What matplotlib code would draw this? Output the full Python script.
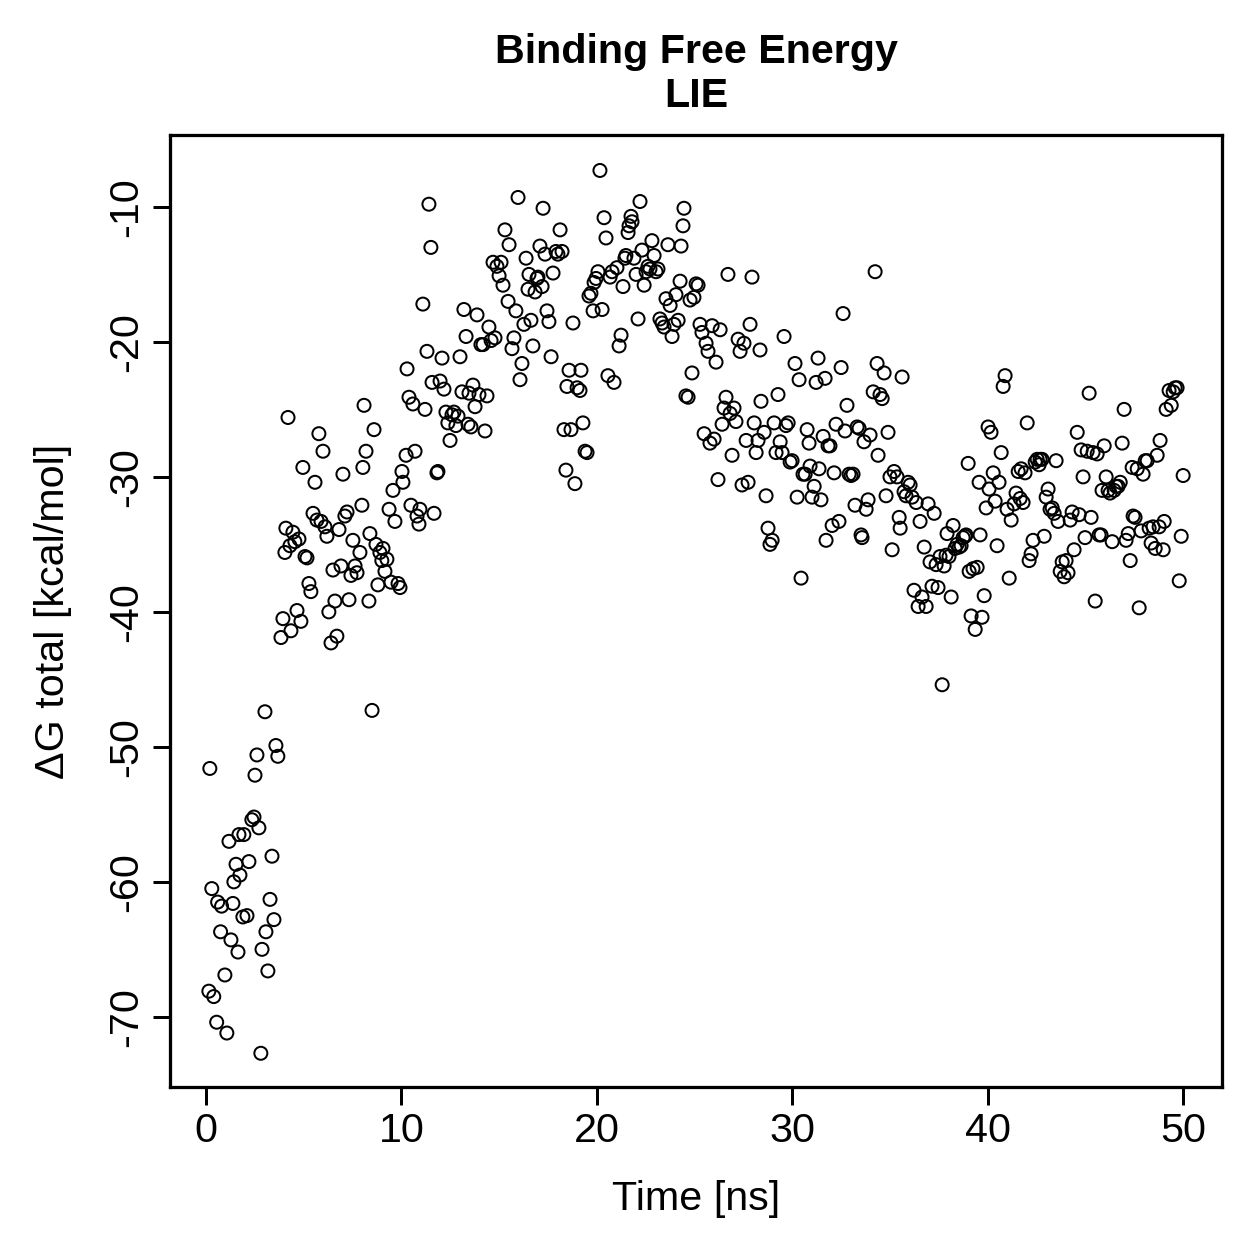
import numpy as np
import matplotlib.pyplot as plt

plt.rcParams['font.family'] = ['Liberation Sans', 'DejaVu Sans']

# time [ns]
time = [
    0.2, 0.3, 0.15, 0.4, 0.6, 0.55, 0.75, 0.8, 0.97, 1.07, 1.18, 1.28, 1.38, 1.43, 1.54, 1.64, 1.69, 1.74, 1.89, 1.94,
    2.1, 2.2, 2.35, 2.46, 2.51, 2.61, 2.71, 2.81, 2.87, 3.02, 3.07, 3.17, 3.28, 3.38, 3.48, 3.58, 3.68, 3.84, 3.94,
    4.04, 4.09, 4.2, 4.3, 4.35, 4.45, 4.55, 4.66, 4.76, 4.86, 4.96, 5.07, 5.17, 5.27, 5.37, 5.48, 5.58, 5.68, 5.78,
    5.89, 5.99, 6.09, 6.19, 6.29, 6.4, 6.5, 6.6, 6.7, 6.81, 6.91, 7.01, 7.11, 7.22, 7.32, 7.42, 7.52, 7.63, 7.73,
    7.88, 7.98, 8.03, 8.09, 8.19, 8.34, 8.39, 8.5, 8.6, 8.7, 8.8, 8.9, 9.0, 9.06, 9.16, 9.26, 9.37, 9.47, 9.57, 9.67,
    9.83, 9.93, 10.03, 10.08, 10.24, 10.29, 10.39, 10.49, 10.59, 10.7, 10.8, 10.9, 10.95, 11.1, 11.21, 11.31, 11.41,
    11.51, 11.57, 11.67, 11.82, 11.87, 11.98, 12.08, 12.18, 12.28, 12.38, 12.49, 12.59, 12.69, 12.79, 12.9, 13.0,
    13.1, 13.2, 13.31, 13.41, 13.46, 13.56, 13.66, 13.77, 13.87, 13.97, 14.07, 14.18, 14.28, 14.38, 14.48, 14.59,
    14.69, 14.79, 14.89, 15.0, 15.1, 15.2, 15.3, 15.46, 15.51, 15.66, 15.76, 15.86, 15.97, 16.07, 16.17, 16.27,
    16.38, 16.48, 16.53, 16.63, 16.73, 16.84, 16.94, 16.99, 17.09, 17.2, 17.25, 17.35, 17.45, 17.55, 17.66, 17.76,
    17.91, 18.01, 18.12, 18.22, 18.32, 18.42, 18.47, 18.58, 18.68, 18.78, 18.88, 18.99, 19.14, 19.19, 19.29, 19.4,
    19.5, 19.6, 19.7, 19.81, 19.86, 19.96, 20.06, 20.16, 20.27, 20.37, 20.47, 20.57, 20.68, 20.78, 20.88, 21.03,
    21.14, 21.24, 21.34, 21.44, 21.49, 21.6, 21.65, 21.75, 21.8, 21.9, 22.01, 22.11, 22.21, 22.31, 22.42, 22.52,
    22.62, 22.72, 22.82, 22.93, 23.03, 23.13, 23.23, 23.34, 23.44, 23.54, 23.64, 23.75, 23.85, 23.95, 24.05, 24.16,
    24.26, 24.31, 24.41, 24.46, 24.56, 24.67, 24.77, 24.87, 24.97, 25.08, 25.18, 25.28, 25.38, 25.49, 25.59, 25.69,
    25.79, 25.9, 26.0, 26.1, 26.2, 26.31, 26.41, 26.51, 26.61, 26.71, 26.82, 26.92, 27.02, 27.12, 27.23, 27.33,
    27.43, 27.53, 27.64, 27.74, 27.84, 27.94, 28.05, 28.15, 28.25, 28.35, 28.4, 28.56, 28.66, 28.76, 28.86, 28.97,
    29.07, 29.17, 29.27, 29.38, 29.48, 29.58, 29.68, 29.79, 29.89, 29.99, 30.14, 30.25, 30.35, 30.45, 30.55, 30.66,
    30.76, 30.86, 30.91, 31.01, 31.12, 31.22, 31.32, 31.37, 31.47, 31.58, 31.68, 31.73, 31.83, 31.93, 32.04, 32.14,
    32.24, 32.39, 32.5, 32.6, 32.7, 32.8, 32.91, 33.01, 33.11, 33.21, 33.32, 33.42, 33.52, 33.57, 33.67, 33.78,
    33.88, 33.98, 34.14, 34.24, 34.34, 34.39, 34.49, 34.6, 34.7, 34.8, 34.9, 35.0, 35.11, 35.21, 35.36, 35.47,
    35.52, 35.62, 35.72, 35.82, 35.93, 36.03, 36.13, 36.23, 36.34, 36.44, 36.54, 36.64, 36.75, 36.85, 36.95, 37.05,
    37.15, 37.26, 37.36, 37.46, 37.56, 37.67, 37.77, 37.87, 37.92, 38.02, 38.13, 38.23, 38.33, 38.43, 38.54, 38.64,
    38.74, 38.84, 38.89, 39.0, 39.05, 39.15, 39.25, 39.36, 39.46, 39.56, 39.61, 39.71, 39.82, 39.92, 40.02, 40.07,
    40.17, 40.28, 40.38, 40.48, 40.58, 40.69, 40.79, 40.89, 40.99, 41.1, 41.2, 41.35, 41.45, 41.56, 41.66, 41.71,
    41.81, 41.91, 42.02, 42.12, 42.22, 42.32, 42.43, 42.53, 42.63, 42.68, 42.78, 42.89, 42.99, 43.09, 43.19, 43.3,
    43.4, 43.5, 43.6, 43.71, 43.81, 43.91, 44.01, 44.11, 44.22, 44.32, 44.42, 44.58, 44.68, 44.78, 44.88, 44.98,
    45.09, 45.19, 45.29, 45.39, 45.5, 45.6, 45.7, 45.8, 45.85, 45.96, 46.06, 46.16, 46.26, 46.37, 46.47, 46.57,
    46.67, 46.78, 46.88, 46.98, 47.08, 47.19, 47.29, 47.39, 47.44, 47.54, 47.65, 47.75, 47.85, 47.95, 48.06, 48.16,
    48.26, 48.36, 48.46, 48.57, 48.67, 48.77, 48.82, 48.98, 49.03, 49.13, 49.28, 49.39, 49.49, 49.59, 49.69, 49.8,
    49.9, 50.0,
]

# dG total [kcal/mol]
dg_total = [
    -51.6, -60.5, -68.1, -68.5, -61.5, -70.4, -63.7, -61.8, -66.9, -71.2, -57.0, -64.3, -61.6, -60.0, -58.7, -65.2,
    -56.5, -59.5, -62.6, -56.5, -62.5, -58.5, -55.4, -55.2, -52.1, -50.6, -56.0, -72.7, -65.0, -47.4, -63.7, -66.6,
    -61.3, -58.1, -62.8, -49.9, -50.7, -41.9, -40.5, -35.6, -33.8, -25.6, -35.1, -41.4, -34.1, -34.8, -39.9, -34.6,
    -40.7, -29.3, -35.9, -36.0, -37.9, -38.5, -32.7, -30.4, -33.2, -26.8, -33.3, -28.1, -33.7, -34.4, -40.0, -42.3,
    -36.9, -39.2, -41.8, -33.9, -36.6, -29.8, -32.9, -32.6, -39.1, -37.3, -34.7, -36.6, -37.1, -35.6, -32.1, -29.3,
    -24.7, -28.1, -39.2, -34.2, -47.3, -26.5, -35.0, -38.0, -35.6, -36.2, -35.3, -37.0, -36.1, -32.4, -37.8, -31.0,
    -33.3, -37.9, -38.2, -29.6, -30.4, -28.4, -22.0, -24.1, -32.1, -24.6, -28.1, -32.9, -33.5, -32.4, -17.2, -25.0,
    -20.7, -9.8, -13.0, -23.0, -32.7, -29.7, -29.6, -22.9, -21.2, -23.5, -25.2, -26.0, -27.3, -25.4, -25.2, -26.2,
    -25.5, -21.1, -23.7, -17.6, -19.6, -26.1, -23.8, -26.3, -23.2, -24.8, -18.0, -23.9, -20.2, -20.2, -26.6, -24.0,
    -18.9, -19.9, -14.1, -19.7, -14.4, -15.1, -14.1, -15.8, -11.7, -17.0, -12.8, -20.5, -19.7, -17.7, -9.3, -22.8,
    -21.6, -18.7, -13.8, -16.1, -15.0, -18.4, -20.3, -16.3, -15.3, -15.2, -12.9, -15.9, -10.1, -13.5, -17.7, -18.5,
    -21.1, -14.9, -13.3, -13.5, -11.7, -13.3, -26.5, -29.5, -23.3, -22.1, -26.5, -18.6, -30.5, -23.4, -23.6, -22.1,
    -26.0, -28.1, -28.2, -16.6, -16.4, -17.7, -15.6, -15.3, -14.8, -7.3, -17.6, -10.8, -12.3, -22.5, -15.2, -14.8,
    -23.0, -14.5, -20.3, -19.5, -15.9, -13.8, -13.6, -11.9, -11.4, -10.7, -11.1, -13.8, -15.0, -18.3, -9.6, -13.2,
    -15.8, -14.8, -14.4, -14.6, -12.5, -13.6, -14.8, -14.6, -18.3, -18.6, -18.9, -16.8, -12.8, -17.3, -19.6, -18.7,
    -16.5, -18.4, -15.5, -12.9, -11.4, -10.1, -24.0, -24.1, -16.9, -22.3, -16.7, -15.7, -15.8, -18.7, -19.3, -26.8,
    -20.1, -20.7, -27.5, -18.8, -27.2, -21.5, -30.2, -19.1, -26.1, -24.9, -24.1, -15.0, -25.3, -28.4, -24.9, -25.9,
    -19.8, -20.7, -30.6, -20.1, -27.3, -30.4, -18.7, -15.2, -26.0, -28.2, -27.3, -20.6, -24.4, -26.7, -31.4, -33.8,
    -35.0, -34.7, -26.0, -28.2, -23.9, -27.4, -28.2, -19.6, -26.2, -26.0, -28.9, -28.8, -21.6, -31.5, -22.8, -37.5,
    -29.8, -29.8, -26.5, -27.5, -29.2, -31.5, -30.7, -23.0, -21.2, -29.4, -31.7, -27.0, -22.7, -34.7, -27.7, -27.7,
    -33.6, -29.7, -26.1, -33.3, -21.9, -17.9, -26.6, -24.7, -29.8, -29.9, -29.8, -32.1, -26.3, -26.4, -34.3, -34.5,
    -27.4, -32.4, -31.7, -26.9, -23.7, -14.8, -21.6, -28.4, -23.9, -24.2, -22.3, -31.4, -26.7, -30.0, -35.4, -29.6,
    -30.0, -33.0, -33.8, -22.6, -31.1, -31.4, -30.4, -30.6, -31.5, -38.4, -31.9, -39.6, -33.3, -38.9, -35.2, -39.6,
    -32.0, -36.3, -38.1, -32.7, -36.5, -38.2, -35.9, -45.4, -36.6, -35.8, -34.2, -35.9, -38.9, -33.6, -35.3, -35.0,
    -35.2, -35.1, -34.5, -34.4, -34.3, -29.0, -37.0, -40.3, -36.8, -41.3, -36.7, -30.4, -34.3, -40.4, -38.8, -32.3,
    -26.3, -30.9, -26.7, -29.7, -31.8, -35.1, -30.4, -28.2, -23.3, -22.5, -32.4, -37.5, -33.2, -32.0, -31.2, -29.6,
    -31.6, -29.4, -31.9, -29.7, -26.0, -36.2, -35.7, -34.7, -28.9, -28.7, -29.1, -28.7, -28.7, -34.4, -31.5, -30.9,
    -32.4, -32.3, -32.7, -28.8, -33.3, -37.0, -36.3, -37.4, -36.2, -37.1, -33.2, -32.6, -35.4, -26.7, -32.8, -28.0,
    -30.0, -34.5, -28.1, -23.8, -33.0, -28.2, -39.2, -28.3, -34.3, -34.3, -31.0, -27.7, -30.0, -31.0, -31.2, -34.8,
    -31.0, -30.7, -30.7, -30.4, -27.5, -25.0, -34.7, -34.2, -36.2, -29.3, -32.9, -33.0, -29.4, -39.7, -34.0, -29.8,
    -28.8, -28.8, -33.8, -34.9, -33.7, -35.3, -28.4, -33.7, -27.3, -35.4, -33.3, -25.0, -23.6, -24.7, -23.7, -23.4,
    -23.4, -37.7, -34.4, -29.9,
]

x_ticks = [0, 10, 20, 30, 40, 50]
y_ticks = [-70, -60, -50, -40, -30, -20, -10]

fig = plt.figure(figsize=(1259 / 180, 1259 / 180), dpi=180)
ax = fig.add_axes([0.135, 0.1366, 0.8358, 0.7562])

ax.scatter(time, dg_total, s=27, facecolors='none', edgecolors='black', linewidths=0.8)

ax.set_xlim(-1.84, 52.0)
ax.set_ylim(-75.2, -4.67)
ax.set_xticks(x_ticks)
ax.set_yticks(y_ticks)
ax.set_yticklabels([str(v) for v in y_ticks], rotation=90, va='center')
ax.tick_params(direction='out', length=7, width=1.2, labelsize=16.5, pad=3)

for sp in ax.spines.values():
    sp.set_linewidth(1.3)

ax.set_xlabel('Time [ns]', fontsize=16.5, labelpad=12)
ax.set_ylabel('ΔG total [kcal/mol]', fontsize=16.5, labelpad=14)
ax.set_title('Binding Free Energy\nLIE', fontsize=16.5, fontweight='bold', pad=11, linespacing=1.2)

fig.savefig('out.png', dpi=180)
